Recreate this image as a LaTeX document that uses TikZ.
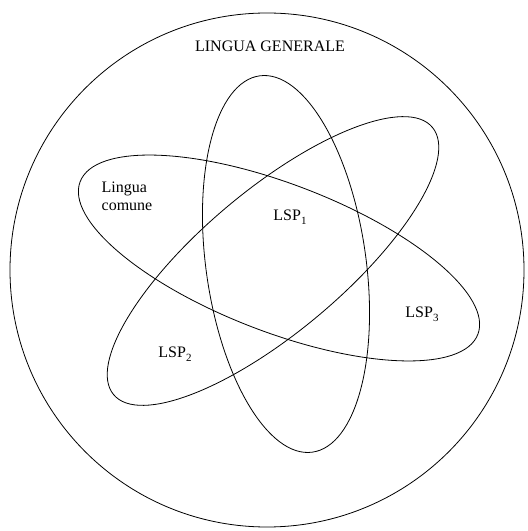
\documentclass[tikz,border=0pt]{standalone}
\usepackage{fontspec}
\setmainfont{Liberation Serif}
\newcommand{\lspsub}[1]{\raisebox{-0.55ex}{\fontsize{11}{11}\selectfont #1}}
\begin{document}
\begin{tikzpicture}[x=1pt, y=1pt, line width=0.8pt,
  lbl/.style={font=\fontsize{16}{18}\selectfont, inner sep=0pt}]
  \useasboundingbox (0,0) rectangle (528,531);
  % outer circle and the three ellipses
  \draw (267,261) circle [radius=257pt];
  \draw[rotate around={98:(286,267)}] (286,267) ellipse [x radius=190pt, y radius=80pt];
  \draw[rotate around={40:(273,270)}] (273,270) ellipse [x radius=208pt, y radius=71pt];
  \draw[rotate around={-21:(279,273)}] (279,273) ellipse [x radius=213pt, y radius=74pt];
  % labels
  \node[lbl] (general) at (270,485) {LINGUA GENERALE};
  \node[lbl, align=left] (common) at (127,335) {Lingua\\comune};
  \node[lbl] (lsp1) at (290,314) {LSP\lspsub{1}};
  \node[lbl] (lsp2) at (175,177) {LSP\lspsub{2}};
  \node[lbl] (lsp3) at (422,217) {LSP\lspsub{3}};
\end{tikzpicture}
\end{document}
